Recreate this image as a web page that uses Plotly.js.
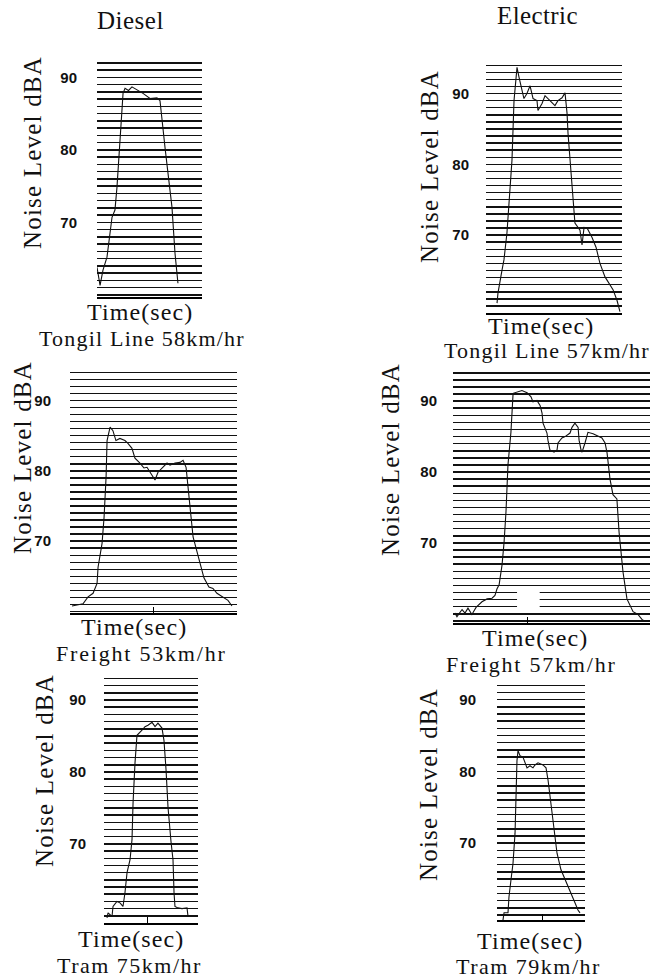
<!DOCTYPE html>
<html>
<head>
<meta charset="utf-8">
<script src="https://cdn.plot.ly/plotly-3.0.1.min.js"></script>
<style>html,body{margin:0;padding:0;background:#fff;}#chart{width:670px;height:978px;}</style>
</head>
<body>
<div id="chart"></div>
<script>
// ---------------- data ----------------
const columnTitles = ["Diesel", "Electric"];
const panelCaptions = ["Tongil Line 58km/hr", "Tongil Line 57km/hr", "Freight 53km/hr", "Freight 57km/hr", "Tram 75km/hr", "Tram 79km/hr"];
const xTitle = "Time(sec)";
const yTitle = "Noise Level dBA";
const yTickVals = [70, 80, 90];
const yTickText = ["70", "80", "90"];

// time axis is relative (0-100 = full record width)
const dieselTongilT  = [0, 2.9, 5.7, 9.5, 14.3, 17.1, 19.0, 21.9, 24.8, 26.7, 30.0, 33.3, 38.1, 43.8, 50.5, 57.1, 60.0, 61.9, 62.9, 64.8, 67.6, 71.4, 74.3, 77.1];
const dieselTongilDb = [63.8, 61.3, 63.4, 65.2, 70.7, 71.7, 74.8, 80.9, 87.8, 88.5, 88.2, 88.7, 88.3, 87.8, 87.1, 87.2, 86.8, 84.1, 82.0, 80.3, 76.8, 72.1, 65.7, 61.6];

const electricTongilT  = [8.1, 8.8, 11.8, 13.2, 15.4, 16.9, 19.1, 20.6, 22.8, 24.3, 26.5, 27.9, 30.1, 32.4, 34.6, 37.5, 38.2, 41.2, 43.4, 45.6, 48.5, 50.7, 52.9, 55.9, 58.1, 59.6, 60.3, 62.5, 64.0, 65.4, 69.1, 70.6, 72.1, 74.3, 77.9, 80.9, 83.8, 87.5, 93.4, 96.3, 98.5];
const electricTongilDb = [60.4, 61.8, 65.1, 66.5, 70.3, 74.9, 80.6, 89.0, 93.7, 92.3, 90.4, 89.3, 90.0, 91.1, 89.3, 89.0, 87.6, 88.6, 89.7, 89.3, 88.7, 88.3, 89.0, 89.4, 90.1, 87.2, 84.4, 78.7, 74.5, 71.7, 70.7, 68.6, 71.1, 71.0, 69.7, 68.3, 66.0, 64.1, 62.3, 60.8, 59.2];

const dieselFreightT  = [1.2, 7.8, 10.8, 13.8, 16.2, 16.8, 19.2, 20.4, 21.6, 22.2, 24.0, 25.7, 27.5, 29.9, 32.9, 34.7, 37.1, 38.9, 41.9, 44.3, 46.1, 47.9, 49.7, 50.9, 52.7, 55.7, 58.1, 59.9, 62.9, 65.9, 67.7, 69.5, 70.7, 72.5, 73.7, 75.4, 77.8, 80.2, 83.2, 85.6, 88.0, 91.6, 94.6, 97.0];
const dieselFreightDb = [60.8, 61.1, 62.1, 62.6, 64.0, 66.3, 69.7, 73.4, 79.1, 84.3, 86.2, 85.7, 84.3, 84.6, 84.3, 83.9, 83.2, 81.8, 81.1, 80.4, 80.5, 79.8, 79.1, 78.7, 79.8, 80.5, 81.1, 80.8, 81.1, 81.2, 81.5, 80.5, 77.2, 73.4, 70.6, 69.1, 66.9, 64.8, 63.5, 63.3, 62.6, 62.1, 61.6, 60.8];

const electricFreightT  = [1.0, 2.0, 4.6, 6.1, 7.6, 9.6, 11.7, 14.7, 17.3, 19.8, 21.3, 22.3, 23.4, 24.9, 25.9, 26.9, 27.9, 29.4, 30.5, 32.5, 35.0, 37.6, 39.6, 40.6, 42.6, 44.2, 45.2, 45.7, 47.7, 48.2, 49.2, 51.3, 52.8, 53.3, 55.3, 56.9, 59.4, 60.4, 61.9, 63.5, 64.0, 65.0, 65.5, 67.0, 68.5, 71.1, 73.6, 75.6, 77.2, 78.2, 79.7, 81.2, 83.2, 84.3, 86.3, 88.3, 91.4, 93.9, 95.9, 97.5];
const electricFreightDb = [60.1, 59.6, 60.6, 60.1, 60.8, 59.9, 60.9, 61.7, 62.1, 62.2, 62.6, 63.5, 64.1, 66.9, 70.0, 74.4, 81.0, 85.6, 91.1, 91.3, 91.5, 91.2, 90.6, 89.9, 90.1, 89.4, 88.3, 86.9, 85.5, 84.5, 83.1, 82.8, 83.1, 84.1, 84.8, 85.0, 85.5, 86.3, 86.9, 86.3, 84.5, 83.1, 82.8, 84.1, 85.6, 85.4, 85.0, 84.8, 84.1, 82.7, 79.0, 76.8, 76.2, 71.5, 65.9, 62.1, 60.3, 59.9, 59.2, 58.9];

const dieselTramT  = [3.2, 4.3, 8.5, 9.6, 13.8, 17.0, 20.2, 22.3, 24.5, 27.7, 29.8, 30.9, 33.0, 35.1, 40.4, 43.6, 46.8, 51.1, 54.3, 57.4, 61.7, 63.8, 66.0, 68.1, 71.3, 73.4, 74.5, 75.5, 78.7, 83.0, 88.3, 89.4];
const dieselTramDb = [59.7, 60.4, 59.9, 61.3, 62.0, 61.8, 61.3, 63.2, 66.0, 67.8, 70.6, 75.7, 81.3, 85.1, 85.8, 86.3, 86.5, 86.9, 86.3, 86.8, 86.1, 84.4, 80.3, 75.1, 70.3, 67.8, 63.2, 61.3, 61.1, 61.0, 61.1, 59.9];

const electricTramT  = [6.8, 8.0, 12.5, 13.6, 15.9, 18.2, 20.5, 21.6, 22.7, 23.9, 26.1, 29.5, 34.1, 37.5, 40.9, 43.2, 46.6, 52.3, 55.7, 58.0, 61.4, 64.8, 68.2, 72.7, 77.3, 80.7, 85.2, 88.6, 92.0, 94.3];
const electricTramDb = [59.3, 60.3, 60.3, 62.5, 64.9, 67.2, 71.4, 77.7, 81.5, 82.9, 82.2, 82.0, 80.5, 80.8, 80.5, 80.9, 81.2, 80.9, 80.5, 78.8, 75.1, 71.4, 68.6, 66.3, 64.9, 63.9, 62.5, 61.7, 60.7, 60.3];

// small time marks on the base line of each record
const timeMarks = [[], [], [50], [38], [46], [52]];

// ---------------- layout geometry (pixels in 670x978 page) ----------------
const W = 670, H = 978;
const series = [
  [dieselTongilT, dieselTongilDb], [electricTongilT, electricTongilDb],
  [dieselFreightT, dieselFreightDb], [electricFreightT, electricFreightDb],
  [dieselTramT, dieselTramDb], [electricTramT, electricTramDb]
];
// box: left, right, top, bottom ; yr: dB range ; tl: tick label offset ; text centres
const boxes = [
  {l: 97,  r: 202, t: 55,  b: 297, yr: [59.7, 93.1], tl: 16, yt: 33,  yc: 153, tx: 140, ty: 312, sx: 142, sy: 338, sp: 1.2},
  {l: 486, r: 622, t: 61,  b: 313, yr: [59.0, 94.6], tl: 13, yt: 430, yc: 167, tx: 541, ty: 326, sx: 547, sy: 351, sp: 1.2},
  {l: 70,  r: 237, t: 367, b: 613, yr: [59.8, 94.75], tl: 15, yt: 22, yc: 458, tx: 134, ty: 627, sx: 141, sy: 653, sp: 1.8},
  {l: 453, r: 650, t: 365, b: 623, yr: [58.7, 95.1], tl: 12, yt: 390, yc: 460, tx: 535, ty: 638, sx: 531, sy: 664, sp: 1.8},
  {l: 104, r: 198, t: 677, b: 923, yr: [59.0, 93.2], tl: 14, yt: 44,  yc: 771, tx: 131, ty: 939, sx: 129, sy: 965, sp: 1.5},
  {l: 497, r: 585, t: 681, b: 920, yr: [59.3, 92.6], tl: 17, yt: 428, yc: 785, tx: 530, ty: 941, sx: 528, sy: 966, sp: 1.5}
];
const px = v => v / W, py = v => 1 - v / H;

const serif = "Liberation Serif";
const spaced = (s, ls) => '<span style="letter-spacing:' + ls + 'px">' + s + '</span>';
const data = [];
const layout = {
  width: W, height: H,
  margin: {l: 0, r: 0, t: 0, b: 0, pad: 0},
  paper_bgcolor: "#ffffff", plot_bgcolor: "#ffffff",
  showlegend: false,
  annotations: [], shapes: []
};

boxes.forEach((b, i) => {
  const k = i === 0 ? "" : String(i + 1);
  data.push({
    type: "scatter", mode: "lines",
    x: series[i][0], y: series[i][1],
    xaxis: "x" + k, yaxis: "y" + k,
    line: {color: "#111111", width: 1.1},
    hoverinfo: "skip"
  });
  layout["xaxis" + k] = {
    domain: [px(b.l), px(b.r)], range: [0, 100], anchor: "y" + k,
    showgrid: false, zeroline: false, showline: true, linecolor: "#000", linewidth: 1.6,
    ticks: "inside", ticklen: 6, tickwidth: 1.2, tickcolor: "#000",
    tickvals: timeMarks[i], showticklabels: false, fixedrange: true
  };
  layout["yaxis" + k] = {
    domain: [py(b.b), py(b.t)], range: b.yr, anchor: "x" + k,
    showline: false, zeroline: false,
    tickvals: yTickVals, ticktext: yTickText,
    ticks: "outside", ticklen: b.tl, tickcolor: "rgba(0,0,0,0)",
    tickfont: {family: "Liberation Sans", size: 15, color: "#111", weight: "bold"},
    showgrid: true, gridcolor: "#111", gridwidth: 1.5,
    minor: {dtick: 1, tick0: 0, showgrid: true, gridcolor: "#111", gridwidth: 1.5},
    fixedrange: true
  };
  layout.annotations.push(
    {xref: "paper", yref: "paper", x: px(b.yt), y: py(b.yc), text: spaced(yTitle, 1.2), textangle: -90,
     showarrow: false, xanchor: "center", yanchor: "middle", font: {family: serif, size: 25, color: "#111"}},
    {xref: "paper", yref: "paper", x: px(b.tx), y: py(b.ty), text: spaced(xTitle, 1.1),
     showarrow: false, xanchor: "center", yanchor: "middle", font: {family: serif, size: 24, color: "#111"}},
    {xref: "paper", yref: "paper", x: px(b.sx), y: py(b.sy), text: spaced(panelCaptions[i], b.sp),
     showarrow: false, xanchor: "center", yanchor: "middle", font: {family: serif, size: 22, color: "#111"}}
  );
});

layout.annotations.push(
  {xref: "paper", yref: "paper", x: px(130), y: py(21), text: spaced(columnTitles[0], 0.5),
   showarrow: false, xanchor: "center", yanchor: "middle", font: {family: serif, size: 25, color: "#111"}},
  {xref: "paper", yref: "paper", x: px(537), y: py(15), text: spaced(columnTitles[1], 0.4),
   showarrow: false, xanchor: "center", yanchor: "middle", font: {family: serif, size: 25, color: "#111"}}
);

// blank patch visible in the scanned electric-freight record
layout.shapes.push({type: "rect", xref: "x4", yref: "y4", x0: 32.5, x1: 44, y0: 60.9, y1: 63.6,
  fillcolor: "#ffffff", line: {width: 0}, layer: "above"});

Plotly.newPlot("chart", data, layout, {staticPlot: true, displayModeBar: false});
</script>
</body>
</html>
